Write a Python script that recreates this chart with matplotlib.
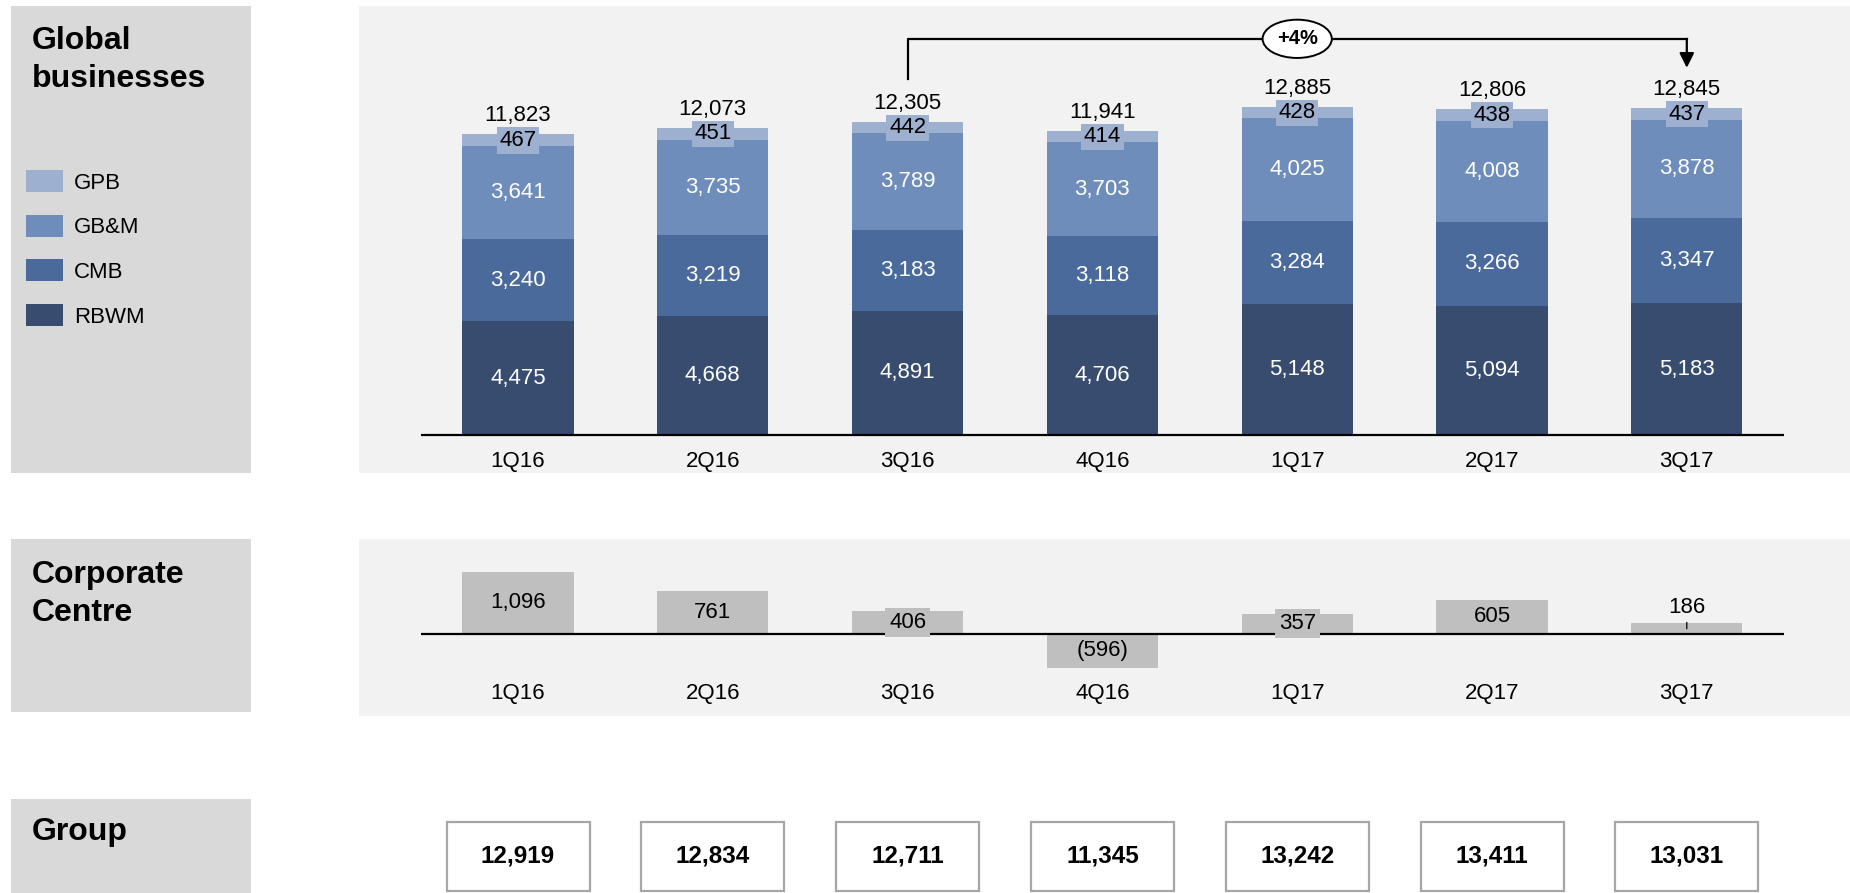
import numpy as np
import matplotlib.pyplot as plt

plt.rcParams['font.family'] = ['Liberation Sans', 'DejaVu Sans']

# data
quarters = ['1Q16', '2Q16', '3Q16', '4Q16', '1Q17', '2Q17', '3Q17']
rbwm = [4475, 4668, 4891, 4706, 5148, 5094, 5183]
cmb = [3240, 3219, 3183, 3118, 3284, 3266, 3347]
gbm = [3641, 3735, 3789, 3703, 4025, 4008, 3878]
gpb = [467, 451, 442, 414, 428, 438, 437]
gb_totals = [11823, 12073, 12305, 11941, 12885, 12806, 12845]
corp_centre = [1096, 761, 406, -596, 357, 605, 186]
group_totals = [12919, 12834, 12711, 11345, 13242, 13411, 13031]
growth_label = '+4%'

c_rbwm = '#374C6E'
c_cmb = '#4A6A9B'
c_gbm = '#6E8DBA'
c_gpb = '#9DB0CF'
c_cc = '#BFBFBF'
c_panel = '#D9D9D9'
c_bg = '#F2F2F2'

FS = 16

W, H = 1850, 893
fig = plt.figure(figsize=(W / 100, H / 100), dpi=100)


def px_axes(x0, y0, x1, y1, color):
    # axes placed by pixel box (top-left origin)
    ax = fig.add_axes([x0 / W, 1 - y1 / H, (x1 - x0) / W, (y1 - y0) / H])
    ax.set_facecolor(color)
    ax.set_xticks([])
    ax.set_yticks([])
    for s in ax.spines.values():
        s.set_visible(False)
    return ax


def fmt(v):
    return f'({abs(v):,})' if v < 0 else f'{v:,}'


# horizontal layout shared by the three rows
step, first = 194.8, 518
xlim = ((359 - first) / step, (1850 - first) / step)
bw = 0.57
x = np.arange(len(quarters))

# left grey title panels
px_axes(11, 6, 251, 473, c_panel)
px_axes(11, 539, 251, 712, c_panel)
px_axes(11, 799, 251, 893, c_panel)
fig.text(32 / W, 1 - 60 / H, 'Global\nbusinesses', fontsize=23, fontweight='bold',
         ha='left', va='center', linespacing=1.38)
fig.text(32 / W, 1 - 594 / H, 'Corporate\nCentre', fontsize=23, fontweight='bold',
         ha='left', va='center', linespacing=1.38)
fig.text(32 / W, 1 - 832 / H, 'Group', fontsize=23, fontweight='bold',
         ha='left', va='center')

# ---- global businesses stacked bars
ax = px_axes(359, 6, 1850, 473, c_bg)
ax.set_xlim(*xlim)
ax.set_ylim(-(473 - 435) / 0.02542, (435 - 6) / 0.02542)

bottom = np.zeros(len(x))
handles = []
for vals, col, name in [(rbwm, c_rbwm, 'RBWM'), (cmb, c_cmb, 'CMB'),
                        (gbm, c_gbm, 'GB&M'), (gpb, c_gpb, 'GPB')]:
    b = ax.bar(x, vals, bw, bottom=bottom, color=col, label=name)
    handles.append(b)
    for i, v in enumerate(vals):
        yc = bottom[i] + v / 2
        if name == 'GPB':
            ax.text(i, yc, fmt(v), ha='center', va='center', fontsize=FS, color='black',
                    bbox=dict(boxstyle='square,pad=0.12', fc=c_gpb, ec='none'))
        else:
            ax.text(i, yc, fmt(v), ha='center', va='center', fontsize=FS, color='white')
    bottom += np.array(vals)

for i, t in enumerate(gb_totals):
    ax.annotate(fmt(t), (i, t), xytext=(0, 19), textcoords='offset pixels',
                ha='center', va='center', fontsize=FS)
    ax.annotate(quarters[i], (i, 0), xytext=(0, -26), textcoords='offset pixels',
                ha='center', va='center', fontsize=FS)
ax.hlines(0, -0.5, 6.5, color='black', lw=1.6)

# growth bracket 3Q16 -> 3Q17
i0, i1 = 2, 6
yh = max(gb_totals) + 2700
ax.plot([i0, i0, i1], [gb_totals[i0] + 1700, yh, yh], color='black', lw=1.6)
ax.annotate('', xy=(i1, gb_totals[i1] + 1600), xytext=(i1, yh),
            arrowprops=dict(arrowstyle='-|>', color='black', lw=1.6,
                            mutation_scale=22, shrinkA=0, shrinkB=0))
ax.text((i0 + i1) / 2, yh, growth_label, ha='center', va='center', fontsize=14.5,
        fontweight='bold',
        bbox=dict(boxstyle='ellipse,pad=0.2', fc='white', ec='black', lw=1.4))

fig.legend(handles=handles[::-1], loc='upper left', bbox_to_anchor=(26 / W, 1 - 170 / H),
           frameon=False, borderpad=0, borderaxespad=0, handlelength=1.65,
           handleheight=1.15, labelspacing=0.95, handletextpad=0.5, fontsize=FS)

# ---- corporate centre
ax2 = px_axes(359, 539, 1850, 716, c_bg)
ax2.set_xlim(*xlim)
ax2.set_ylim(-(716 - 634) / 0.057, (634 - 539) / 0.057)
ax2.bar(x, corp_centre, bw, color=c_cc)
for i, v in enumerate(corp_centre):
    if abs(v) < 300:
        ax2.annotate(fmt(v), (i, v / 2), xytext=(0, 21), textcoords='offset pixels',
                     ha='center', va='center', fontsize=FS,
                     arrowprops=dict(arrowstyle='-', color='black', lw=0.9,
                                     shrinkA=1, shrinkB=0))
    else:
        ax2.text(i, v / 2, fmt(v), ha='center', va='center', fontsize=FS,
                 bbox=dict(boxstyle='square,pad=0.18', fc=c_cc, ec='none'))
    ax2.annotate(quarters[i], (i, 0), xytext=(0, -59), textcoords='offset pixels',
                 ha='center', va='center', fontsize=FS)
ax2.hlines(0, -0.5, 6.5, color='black', lw=1.6)

# ---- group boxes
ax3 = px_axes(359, 822, 1850, 891, 'white')
ax3.patch.set_alpha(0)
ax3.set_xlim(*xlim)
ax3.set_ylim(0, 1)
ax3.bar(x, np.ones(len(x)), 143 / step, color='white', edgecolor='#A6A6A6', lw=1.6,
        clip_on=False)
for i, v in enumerate(group_totals):
    ax3.text(i, 0.5, fmt(v), ha='center', va='center', fontsize=17.5, fontweight='bold')

fig.savefig('out.png', dpi=100)
